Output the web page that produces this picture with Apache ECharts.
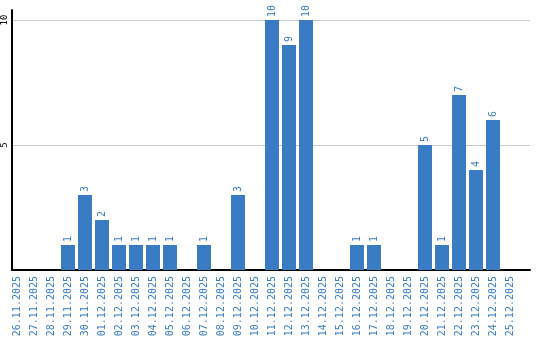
<!DOCTYPE html>
<html>
<head>
<meta charset="utf-8">
<script src="https://cdn.jsdelivr.net/npm/echarts@6/dist/echarts.min.js"></script>
<style>html,body{margin:0;padding:0;background:#fff}#c{width:540px;height:340px}</style>
</head>
<body>
<div id="c"></div>
<script>
var categories = ['26.11.2025','27.11.2025','28.11.2025','29.11.2025','30.11.2025','01.12.2025','02.12.2025','03.12.2025','04.12.2025','05.12.2025','06.12.2025','07.12.2025','08.12.2025','09.12.2025','10.12.2025','11.12.2025','12.12.2025','13.12.2025','14.12.2025','15.12.2025','16.12.2025','17.12.2025','18.12.2025','19.12.2025','20.12.2025','21.12.2025','22.12.2025','23.12.2025','24.12.2025','25.12.2025'];
var values = [0,0,0,1,3,2,1,1,1,1,0,1,0,3,0,10,9,10,0,0,1,1,0,0,5,1,7,4,6,0];
var yTicks = [5, 10];

var blue = '#3a7cc3';
var mono = '"DejaVu Sans Mono", "Liberation Mono", monospace';
var chart = echarts.init(document.getElementById('c'), null, {renderer: 'canvas'});
chart.setOption({
  animation: false,
  grid: [
    {left: 10, top: 10, width: 520, height: 260, containLabel: false},
    {left: 8.5, top: 10, width: 510, height: 260, containLabel: false}
  ],
  xAxis: [
    {gridIndex: 0, type: 'category', data: categories, axisLine: {lineStyle: {color: '#000', width: 2}}, axisTick: {show: false}, axisLabel: {show: false}},
    {gridIndex: 1, type: 'category', data: categories, axisLine: {show: false}, axisTick: {show: false},
     axisLabel: {rotate: 90, interval: 0, color: blue, fontFamily: mono, fontSize: 10, margin: 6}}
  ],
  yAxis: [
    {gridIndex: 0, type: 'value', min: 0, max: 10.4, interval: 5,
     axisLine: {show: true, lineStyle: {color: '#000', width: 2}}, axisTick: {show: false},
     splitLine: {showMinLine: false, showMaxLine: false, lineStyle: {color: '#c8c8c8', width: 1}},
     axisLabel: {rotate: 90, color: '#000', fontFamily: mono, fontSize: 9, margin: 3, showMaxLabel: false,
       formatter: function (v) { return yTicks.indexOf(v) >= 0 ? String(v) : ''; }}},
    {gridIndex: 1, type: 'value', min: 0, max: 10.4, show: false}
  ],
  series: [{
    type: 'bar', xAxisIndex: 1, yAxisIndex: 1, data: values, barWidth: 14,
    itemStyle: {color: blue},
    label: {show: true, position: 'top', rotate: 90, align: 'left', verticalAlign: 'middle', distance: 3,
      color: blue, fontFamily: mono, fontSize: 10,
      formatter: function (p) { return p.value ? String(p.value) : ''; }}
  }]
});
</script>
</body>
</html>
